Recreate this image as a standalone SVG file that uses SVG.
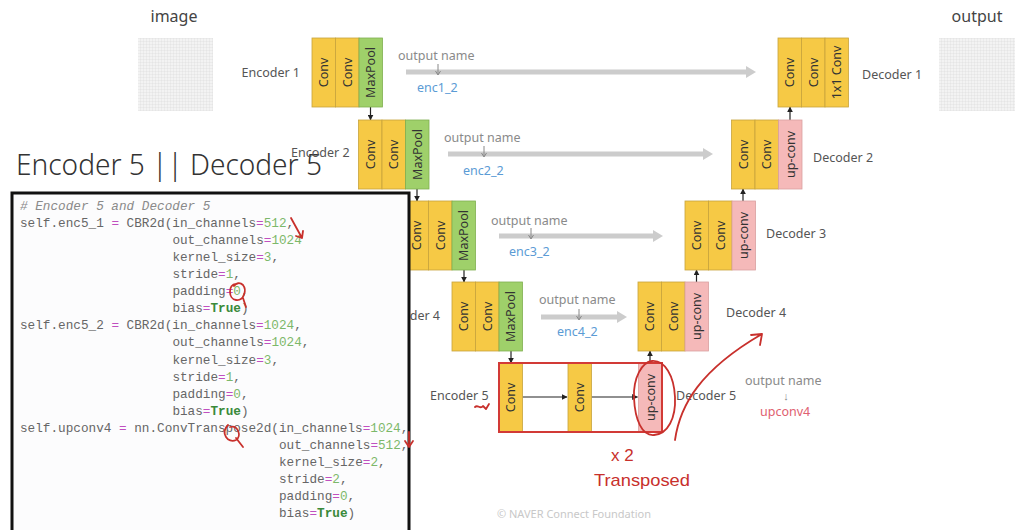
<svg xmlns="http://www.w3.org/2000/svg" width="1028" height="530" viewBox="0 0 1028 530">
<defs>
<style>
.lbl{font-family:"Noto Sans","Liberation Sans",sans-serif;font-size:12.5px;fill:#555}
.cl{font-family:"Noto Sans","Liberation Sans",sans-serif;font-size:12.5px;fill:#333;text-anchor:middle;dominant-baseline:central}
.on{font-family:"Noto Sans","Liberation Sans",sans-serif;font-size:12.5px;fill:#8a8a8a}
.en{font-family:"Noto Sans","Liberation Sans",sans-serif;font-size:12.5px;fill:#5b9bd5}
.y{fill:#f6c945;stroke:#c7a43c;stroke-width:0.8}
.g{fill:#9fd06a;stroke:#7fae50;stroke-width:0.8}
.p{fill:#f5b9b9;stroke:#d9a0a0;stroke-width:0.8}
.skip{stroke:#cccccc;stroke-width:5;fill:none}
.skh{fill:#cccccc}
.dn{stroke:#888;stroke-width:1;fill:none}
.flow{stroke:#222;stroke-width:1.2;fill:none;marker-end:url(#ah)}
.code{font-family:"Liberation Mono",monospace;font-size:12.7px;fill:#666}
.cm{font-style:italic;fill:#8a8a8a}
.op{fill:#c050c0}
.n{fill:#7cb86a}
.t{fill:#3a8a3a;font-weight:bold}
.red{stroke:#c8302c;stroke-width:1.8;fill:none;stroke-linecap:round;stroke-linejoin:round}
.rt{font-family:"Liberation Sans",sans-serif;fill:#c8302c}
</style>
<marker id="ah" viewBox="0 0 10 10" refX="9" refY="5" markerWidth="5" markerHeight="5" orient="auto">
<path d="M0,0 L10,5 L0,10 z" fill="#222"/>
</marker>
<pattern id="grid" width="3" height="3" patternUnits="userSpaceOnUse">
<rect width="3" height="3" fill="#f3f3f3"/>
<path d="M3,0 V3 M0,3 H3" stroke="#d8d8d8" stroke-width="0.6"/>
</pattern>
</defs>
<rect width="1028" height="530" fill="#ffffff"/>

<g id="image-in">
<text x="174" y="22" text-anchor="middle" style="font-family:'Noto Sans',sans-serif;font-size:16px;fill:#444">image</text>
<rect x="138" y="38" width="75" height="73" fill="url(#grid)"/>
</g>
<g id="image-out">
<text x="977" y="22" text-anchor="middle" style="font-family:'Noto Sans',sans-serif;font-size:16px;fill:#444">output</text>
<rect x="939" y="38" width="76" height="73" fill="url(#grid)"/>
</g>

<g id="connectors">
<line class="skip" x1="406" y1="72" x2="747" y2="72"/><polygon class="skh" points="746,66 756,72 746,78"/>
<line class="skip" x1="448" y1="154" x2="704" y2="154"/><polygon class="skh" points="703,148 713,154 703,160"/>
<line class="skip" x1="499" y1="236" x2="654" y2="236"/><polygon class="skh" points="653,230 663,236 653,242"/>
<line class="skip" x1="541" y1="317" x2="618" y2="317"/><polygon class="skh" points="617,311 627,317 617,323"/>
<path class="dn" d="M438,64 V74 M435.5,71 L438,75 L440.5,71"/>
<path class="dn" d="M484,146 V156 M481.5,153 L484,157 L486.5,153"/>
<path class="dn" d="M531,228 V238 M528.5,235 L531,239 L533.5,235"/>
<path class="dn" d="M579,309 V319 M576.5,316 L579,320 L581.5,316"/>
<line class="flow" x1="370.5" y1="107" x2="370.5" y2="120"/>
<line class="flow" x1="417" y1="189" x2="417" y2="201"/>
<line class="flow" x1="464" y1="270" x2="464" y2="282"/>
<line class="flow" x1="511" y1="351" x2="511" y2="363"/>
<line class="flow" x1="650" y1="363" x2="650" y2="351"/>
<line class="flow" x1="696.5" y1="282" x2="696.5" y2="270"/>
<line class="flow" x1="743" y1="201" x2="743" y2="189"/>
<line class="flow" x1="790" y1="120" x2="790" y2="107"/>
<line class="flow" x1="522.5" y1="397" x2="567" y2="397"/>
<line class="flow" x1="591.5" y1="397" x2="637.5" y2="397"/>
</g>

<g id="output-names">
<text class="on" x="398" y="60">output name</text><text class="en" x="417" y="92">enc1_2</text>
<text class="on" x="444" y="142">output name</text><text class="en" x="463" y="175">enc2_2</text>
<text class="on" x="491" y="225">output name</text><text class="en" x="509" y="256">enc3_2</text>
<text class="on" x="539" y="304">output name</text><text class="en" x="557" y="336">enc4_2</text>
<text class="on" x="745" y="385">output name</text>
<text class="on" x="786" y="400" text-anchor="middle" style="font-size:11px">↓</text>
<text class="en" x="760" y="416" style="fill:#e06070">upconv4</text>
</g>

<g id="enc1" transform="translate(312,38)">
<rect class="y" x="0" y="0" width="23.5" height="69"/><rect class="y" x="23.5" y="0" width="23.5" height="69"/><rect class="g" x="47" y="0" width="23.5" height="69"/>
<text class="cl" transform="translate(11.75,34.5) rotate(-90)">Conv</text><text class="cl" transform="translate(35.25,34.5) rotate(-90)">Conv</text><text class="cl" transform="translate(58.75,34.5) rotate(-90)">MaxPool</text>
</g>
<text class="lbl" x="300" y="77" text-anchor="end">Encoder 1</text>
<g id="enc2" transform="translate(358.5,120)">
<rect class="y" x="0" y="0" width="23.5" height="69"/><rect class="y" x="23.5" y="0" width="23.5" height="69"/><rect class="g" x="47" y="0" width="23.5" height="69"/>
<text class="cl" transform="translate(11.75,34.5) rotate(-90)">Conv</text><text class="cl" transform="translate(35.25,34.5) rotate(-90)">Conv</text><text class="cl" transform="translate(58.75,34.5) rotate(-90)">MaxPool</text>
</g>
<g id="enc3" transform="translate(405,201)">
<rect class="y" x="0" y="0" width="23.5" height="69"/><rect class="y" x="23.5" y="0" width="23.5" height="69"/><rect class="g" x="47" y="0" width="23.5" height="69"/>
<text class="cl" transform="translate(11.75,34.5) rotate(-90)">Conv</text><text class="cl" transform="translate(35.25,34.5) rotate(-90)">Conv</text><text class="cl" transform="translate(58.75,34.5) rotate(-90)">MaxPool</text>
</g>
<g id="enc4" transform="translate(452,282)">
<rect class="y" x="0" y="0" width="23.5" height="69"/><rect class="y" x="23.5" y="0" width="23.5" height="69"/><rect class="g" x="47" y="0" width="23.5" height="69"/>
<text class="cl" transform="translate(11.75,34.5) rotate(-90)">Conv</text><text class="cl" transform="translate(35.25,34.5) rotate(-90)">Conv</text><text class="cl" transform="translate(58.75,34.5) rotate(-90)">MaxPool</text>
</g>
<text class="lbl" x="440" y="320" text-anchor="end">Encoder 4</text>
<g id="enc5" transform="translate(499,363)">
<rect class="y" x="0" y="0" width="23.5" height="69"/><rect class="y" x="69" y="0" width="23.5" height="69"/><rect class="p" x="139.5" y="0" width="23.5" height="69"/>
<text class="cl" transform="translate(11.75,34.5) rotate(-90)">Conv</text><text class="cl" transform="translate(80.75,34.5) rotate(-90)">Conv</text><text class="cl" transform="translate(151.25,34.5) rotate(-90)">up-conv</text>
<rect x="0" y="0" width="163" height="69" fill="none" stroke="#d23a36" stroke-width="2"/>
</g>
<text class="lbl" x="430" y="400">Encoder 5</text>
<text class="lbl" x="676" y="400">Decoder 5</text>
<g id="dec4" transform="translate(638,282)">
<rect class="y" x="0" y="0" width="23.5" height="69"/><rect class="y" x="23.5" y="0" width="23.5" height="69"/><rect class="p" x="47" y="0" width="23.5" height="69"/>
<text class="cl" transform="translate(11.75,34.5) rotate(-90)">Conv</text><text class="cl" transform="translate(35.25,34.5) rotate(-90)">Conv</text><text class="cl" transform="translate(58.75,34.5) rotate(-90)">up-conv</text>
</g>
<text class="lbl" x="726" y="317">Decoder 4</text>
<g id="dec3" transform="translate(685,201)">
<rect class="y" x="0" y="0" width="23.5" height="69"/><rect class="y" x="23.5" y="0" width="23.5" height="69"/><rect class="p" x="47" y="0" width="23.5" height="69"/>
<text class="cl" transform="translate(11.75,34.5) rotate(-90)">Conv</text><text class="cl" transform="translate(35.25,34.5) rotate(-90)">Conv</text><text class="cl" transform="translate(58.75,34.5) rotate(-90)">up-conv</text>
</g>
<text class="lbl" x="766" y="238">Decoder 3</text>
<g id="dec2" transform="translate(731.5,120)">
<rect class="y" x="0" y="0" width="23.5" height="69"/><rect class="y" x="23.5" y="0" width="23.5" height="69"/><rect class="p" x="47" y="0" width="23.5" height="69"/>
<text class="cl" transform="translate(11.75,34.5) rotate(-90)">Conv</text><text class="cl" transform="translate(35.25,34.5) rotate(-90)">Conv</text><text class="cl" transform="translate(58.75,34.5) rotate(-90)">up-conv</text>
</g>
<text class="lbl" x="813" y="162">Decoder 2</text>
<g id="dec1" transform="translate(778,38)">
<rect class="y" x="0" y="0" width="23.5" height="69"/><rect class="y" x="23.5" y="0" width="23.5" height="69"/><rect class="y" x="47" y="0" width="23.5" height="69"/>
<text class="cl" transform="translate(11.75,34.5) rotate(-90)">Conv</text><text class="cl" transform="translate(35.25,34.5) rotate(-90)">Conv</text><text class="cl" transform="translate(58.75,34.5) rotate(-90)">1x1 Conv</text>
</g>
<text class="lbl" x="862" y="79">Decoder 1</text>

<g id="title">
<text x="16" y="175" textLength="306" lengthAdjust="spacingAndGlyphs" style="font-family:'Noto Sans',sans-serif;font-size:30px;font-weight:300;fill:#333">Encoder 5 || Decoder 5</text>
</g>
<text class="lbl" x="291" y="157">Encoder 2</text>

<g id="code">
<rect x="12" y="193" width="397" height="345" fill="#fcfcfd" stroke="#111" stroke-width="3"/>
<text class="code cm" x="20" y="210"># Encoder 5 and Decoder 5</text>
<text class="code" x="20" y="227.1">self.enc5_1 <tspan class="op">=</tspan> CBR2d(in_channels<tspan class="op">=</tspan><tspan class="n">512</tspan>,</text>
<text class="code" x="172.4" y="244.1">out_channels<tspan class="op">=</tspan><tspan class="n">1024</tspan></text>
<text class="code" x="172.4" y="261.2">kernel_size<tspan class="op">=</tspan><tspan class="n">3</tspan>,</text>
<text class="code" x="172.4" y="278.2">stride<tspan class="op">=</tspan><tspan class="n">1</tspan>,</text>
<text class="code" x="172.4" y="295.2">padding<tspan class="op">=</tspan><tspan class="n">0</tspan>,</text>
<text class="code" x="172.4" y="312.3">bias<tspan class="op">=</tspan><tspan class="t">True</tspan>)</text>
<text class="code" x="20" y="329.4">self.enc5_2 <tspan class="op">=</tspan> CBR2d(in_channels<tspan class="op">=</tspan><tspan class="n">1024</tspan>,</text>
<text class="code" x="172.4" y="346.4">out_channels<tspan class="op">=</tspan><tspan class="n">1024</tspan>,</text>
<text class="code" x="172.4" y="363.5">kernel_size<tspan class="op">=</tspan><tspan class="n">3</tspan>,</text>
<text class="code" x="172.4" y="380.5">stride<tspan class="op">=</tspan><tspan class="n">1</tspan>,</text>
<text class="code" x="172.4" y="397.6">padding<tspan class="op">=</tspan><tspan class="n">0</tspan>,</text>
<text class="code" x="172.4" y="414.7">bias<tspan class="op">=</tspan><tspan class="t">True</tspan>)</text>
<text class="code" x="20" y="431.7">self.upconv4 <tspan class="op">=</tspan> nn.ConvTranspose2d(in_channels<tspan class="op">=</tspan><tspan class="n">1024</tspan>,</text>
<text class="code" x="279" y="448.8">out_channels<tspan class="op">=</tspan><tspan class="n">512</tspan>,</text>
<text class="code" x="279" y="465.8">kernel_size<tspan class="op">=</tspan><tspan class="n">2</tspan>,</text>
<text class="code" x="279" y="482.9">stride<tspan class="op">=</tspan><tspan class="n">2</tspan>,</text>
<text class="code" x="279" y="500">padding<tspan class="op">=</tspan><tspan class="n">0</tspan>,</text>
<text class="code" x="279" y="517">bias<tspan class="op">=</tspan><tspan class="t">True</tspan>)</text>
</g>

<g id="annotations">
<path class="red" d="M291,218 L302,238 M296,236 L302,238 L303,231"/>
<path class="red" d="M236,284 C228,284 228,299 236,300 C244,301 247,290 243,285 C240,282 236,283 234,286 M243,298 L246,307"/>
<path class="red" d="M228,425 C220,433 228,444 236,440 C242,436 238,425 230,427 M236,438 L243,447"/>
<path class="red" d="M409,432 L409,446 M405,441 L409,447 L413,441"/>
<path class="red" d="M475,407 C478,404 480,410 483,406 L486,409 L489,404"/>
<path class="red" d="M652,361 C642,362 633,378 634,398 C635,420 642,436 654,435 C668,434 676,418 675,397 C674,376 665,360 652,361 Z"/>
<path class="red" d="M675,440 C680,405 700,370 762,334 M751,335 L762,334 L760,345"/>
<text class="rt" x="611" y="461" style="font-size:17px">x 2</text>
<text class="rt" x="594" y="486" style="font-size:17px" textLength="96" lengthAdjust="spacingAndGlyphs">Transposed</text>
</g>

<text x="497" y="518" style="font-family:'Noto Sans',sans-serif;font-size:11px;fill:#c8c8c8">© NAVER Connect Foundation</text>
</svg>
